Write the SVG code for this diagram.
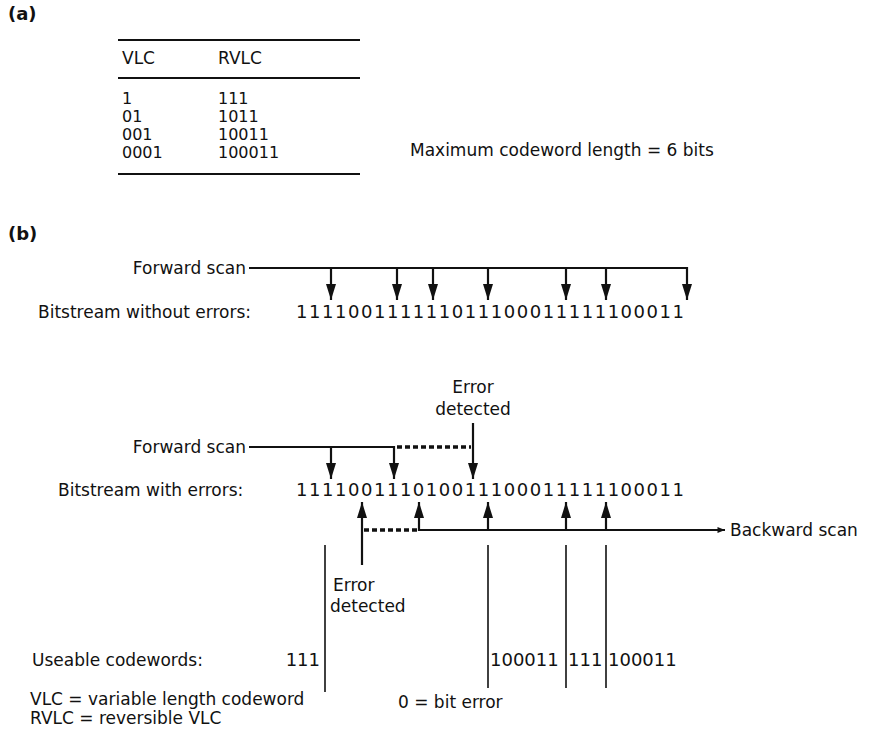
<svg xmlns="http://www.w3.org/2000/svg" width="877" height="747" viewBox="0 0 877 747">
<defs>
<style>
text{font-family:"DejaVu Sans","Liberation Sans",Arial,sans-serif;font-size:17px;fill:#111}
.lbl{font-weight:bold;font-size:18px}
.bits{font-size:18px}
.tb{font-size:16px}
.ln{stroke:#111;stroke-width:2.2;fill:none}
.dot{stroke:#111;stroke-width:3.5;stroke-dasharray:5 3;fill:none}
.thin{stroke:#111;stroke-width:1.6;fill:none}
</style>
<marker id="ah" viewBox="0 0 16 10" refX="16" refY="5" markerWidth="16" markerHeight="10" markerUnits="userSpaceOnUse" orient="auto">
<path d="M0,0 L16,5 L0,10 Z" fill="#111"/>
</marker>
<marker id="ahs" viewBox="0 0 10 8" refX="10" refY="4" markerWidth="8" markerHeight="6" markerUnits="userSpaceOnUse" orient="auto">
<path d="M0,0 L10,4 L0,8 Z" fill="#111"/>
</marker>
</defs>
<rect width="877" height="747" fill="#fff"/>

<g id="part-a">
<text class="lbl" x="8" y="20">(a)</text>
<line class="ln" x1="118" y1="40" x2="360" y2="40"/>
<text x="122" y="64">VLC</text>
<text x="218" y="64">RVLC</text>
<line class="ln" x1="118" y1="78" x2="360" y2="78"/>
<text class="tb" x="122" y="104">1</text><text class="tb" x="218" y="104">111</text>
<text class="tb" x="122" y="122">01</text><text class="tb" x="218" y="122">1011</text>
<text class="tb" x="122" y="140">001</text><text class="tb" x="218" y="140">10011</text>
<text class="tb" x="122" y="158">0001</text><text class="tb" x="218" y="158">100011</text>
<line class="ln" x1="118" y1="174" x2="360" y2="174"/>
<text x="410" y="156">Maximum codeword length = 6 bits</text>
</g>

<g id="part-b-labels">
<text class="lbl" x="8" y="240">(b)</text>
<text x="246" y="274" text-anchor="end">Forward scan</text>
<text x="38" y="318">Bitstream without errors:</text>
<text class="bits" x="296" y="318" textLength="388" lengthAdjust="spacing">111100111111011100011111100011</text>
<text x="473" y="393" text-anchor="middle">Error</text>
<text x="473" y="415" text-anchor="middle">detected</text>
<text x="246" y="453" text-anchor="end">Forward scan</text>
<text x="58" y="496">Bitstream with errors:</text>
<text class="bits" x="296" y="496" textLength="388" lengthAdjust="spacing">111100111010011100011111100011</text>
<text x="730" y="536">Backward scan</text>
<text x="333" y="591">Error</text>
<text x="330" y="612">detected</text>
<text x="32" y="666">Useable codewords:</text>
<text class="bits" x="320" y="666" text-anchor="end">111</text>
<text class="bits" x="490" y="666">100011</text>
<text class="bits" x="568" y="666">111</text>
<text class="bits" x="608" y="666">100011</text>
<text x="30" y="705">VLC = variable length codeword</text>
<text x="30" y="724">RVLC = reversible VLC</text>
<text x="398" y="708">0 = bit error</text>
</g>

<g id="connectors">
<line class="ln" x1="249" y1="268" x2="687" y2="268"/>
<line class="ln" x1="331" y1="268" x2="331" y2="300" marker-end="url(#ah)"/>
<line class="ln" x1="397" y1="268" x2="397" y2="300" marker-end="url(#ah)"/>
<line class="ln" x1="433" y1="268" x2="433" y2="300" marker-end="url(#ah)"/>
<line class="ln" x1="488" y1="268" x2="488" y2="300" marker-end="url(#ah)"/>
<line class="ln" x1="566" y1="268" x2="566" y2="300" marker-end="url(#ah)"/>
<line class="ln" x1="606" y1="268" x2="606" y2="300" marker-end="url(#ah)"/>
<line class="ln" x1="687" y1="267" x2="687" y2="300" marker-end="url(#ah)"/>

<line class="ln" x1="249" y1="447" x2="394" y2="447"/>
<line class="dot" x1="397" y1="447" x2="471" y2="447"/>
<line class="ln" x1="331" y1="447" x2="331" y2="479" marker-end="url(#ah)"/>
<line class="ln" x1="394" y1="446" x2="394" y2="479" marker-end="url(#ah)"/>
<line class="ln" x1="473" y1="423" x2="473" y2="479" marker-end="url(#ah)"/>

<line class="ln" x1="362" y1="565" x2="362" y2="502" marker-end="url(#ah)"/>
<line class="dot" x1="364" y1="530" x2="417" y2="530"/>
<line class="ln" x1="419" y1="531" x2="419" y2="502" marker-end="url(#ah)"/>
<line class="ln" x1="418" y1="530" x2="725" y2="530" marker-end="url(#ahs)"/>
<line class="ln" x1="488" y1="530" x2="488" y2="502" marker-end="url(#ah)"/>
<line class="ln" x1="566" y1="530" x2="566" y2="502" marker-end="url(#ah)"/>
<line class="ln" x1="606" y1="530" x2="606" y2="502" marker-end="url(#ah)"/>

<line class="thin" x1="325" y1="545" x2="325" y2="692"/>
<line class="thin" x1="488" y1="545" x2="488" y2="688"/>
<line class="thin" x1="566" y1="545" x2="566" y2="688"/>
<line class="thin" x1="606" y1="545" x2="606" y2="688"/>
</g>
</svg>
